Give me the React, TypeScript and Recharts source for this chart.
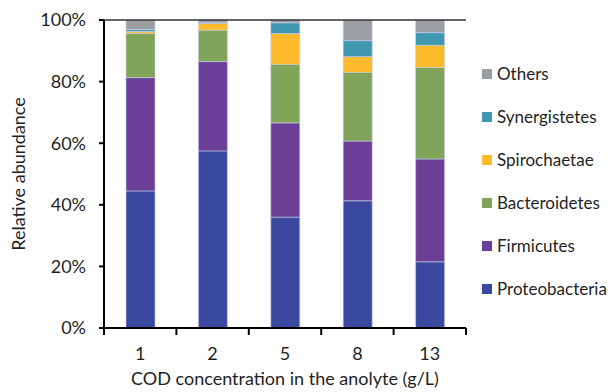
import { BarChart, Bar, XAxis, YAxis, ReferenceLine, Label } from "recharts";

const CATEGORIES = ["1", "2", "5", "8", "13"];
const PROTEOBACTERIA = [44.5, 57.5, 36.0, 41.3, 21.5];
const FIRMICUTES = [36.8, 29.0, 30.6, 19.4, 33.4];
const BACTEROIDETES = [14.4, 10.2, 19.0, 22.3, 29.7];
const SPIROCHAETAE = [0.6, 2.2, 10.0, 5.1, 7.2];
const SYNERGISTETES = [0.6, 0.3, 3.5, 5.2, 4.1];
const OTHERS = [3.1, 0.8, 0.9, 6.7, 4.1];
const Y_TICKS = [0, 20, 40, 60, 80, 100];

const SERIES = [
  { key: "Proteobacteria", values: PROTEOBACTERIA, color: "#3a48a0" },
  { key: "Firmicutes", values: FIRMICUTES, color: "#6b3f98" },
  { key: "Bacteroidetes", values: BACTEROIDETES, color: "#80a55a" },
  { key: "Spirochaetae", values: SPIROCHAETAE, color: "#fdbb2b" },
  { key: "Synergistetes", values: SYNERGISTETES, color: "#3f97b0" },
  { key: "Others", values: OTHERS, color: "#9b9ea3" },
];

const FONT = "Lato, 'Open Sans', sans-serif";
const TEXT = "#1f1f1f";
const FS = 18;

const data = CATEGORIES.map((c, i) => {
  const row: Record<string, string | number> = { cod: c };
  SERIES.forEach((s) => (row[s.key] = s.values[i]));
  return row;
});

// tick marks sit on the category boundaries, not under the bars
function XTick(props: any) {
  const { x, y, payload, index } = props;
  const half = 36.2;
  return (
    <g>
      <line x1={x - half} x2={x - half} y1={y - 8} y2={y - 1} stroke="#000" strokeWidth={2} />
      {index === CATEGORIES.length - 1 && (
        <line x1={x + half} x2={x + half} y1={y - 8} y2={y - 1} stroke="#000" strokeWidth={2} />
      )}
      <text x={x} y={y + 24} textAnchor="middle" fill={TEXT} fontSize={FS} fontFamily={FONT}>
        {payload.value}
      </text>
    </g>
  );
}

function SideLegend() {
  const items = [...SERIES].reverse();
  return (
    <div
      style={{
        position: "absolute",
        left: 482,
        top: 52,
        fontFamily: FONT,
        fontSize: 17,
        color: TEXT,
        whiteSpace: "nowrap",
      }}
    >
      {items.map((s) => (
        <div key={s.key} style={{ display: "flex", alignItems: "center", height: 43 }}>
          <span style={{ width: 10, height: 10, background: s.color, marginRight: 5 }} />
          <span>{s.key}</span>
        </div>
      ))}
    </div>
  );
}

export default function App() {
  return (
    <div style={{ position: "absolute", left: 0, top: 0, width: 612, height: 392, background: "#fff" }}>
      <BarChart
        width={612}
        height={392}
        data={data}
        margin={{ top: 20, right: 146, bottom: 34, left: 0 }}
        barSize={29}
      >
        <XAxis
          dataKey="cod"
          height={30}
          axisLine={{ stroke: "#000", strokeWidth: 2 }}
          tickLine={false}
          tick={<XTick />}
          interval={0}
        >
          <Label
            value="COD concentration in the anolyte (g/L)"
            position="bottom"
            offset={14}
            style={{ fontFamily: FONT, fontSize: FS, fill: TEXT }}
          />
        </XAxis>
        <YAxis
          width={104}
          domain={[0, 100]}
          ticks={Y_TICKS}
          tickFormatter={(v) => `${v}%`}
          axisLine={{ stroke: "#000", strokeWidth: 2 }}
          tickLine={{ stroke: "#000", strokeWidth: 2 }}
          tickSize={5}
          tickMargin={13}
          tick={{ fill: TEXT, fontSize: FS, fontFamily: FONT }}
        >
          <Label
            value="Relative abundance"
            angle={-90}
            position="insideLeft"
            offset={19}
            style={{ fontFamily: FONT, fontSize: FS, fill: TEXT, textAnchor: "middle" }}
          />
        </YAxis>
        <YAxis
          yAxisId="right"
          orientation="right"
          width={0}
          domain={[0, 100]}
          tick={false}
          tickLine={false}
          axisLine={{ stroke: "#000", strokeWidth: 2 }}
        />
        <ReferenceLine y={100} stroke="#333" strokeWidth={1.5} />
        {SERIES.map((s) => (
          <Bar
            key={s.key}
            dataKey={s.key}
            stackId="a"
            fill={s.color}
            stroke="#c8cdea"
            strokeWidth={0.6}
            isAnimationActive={false}
          />
        ))}
      </BarChart>
      <SideLegend />
    </div>
  );
}
